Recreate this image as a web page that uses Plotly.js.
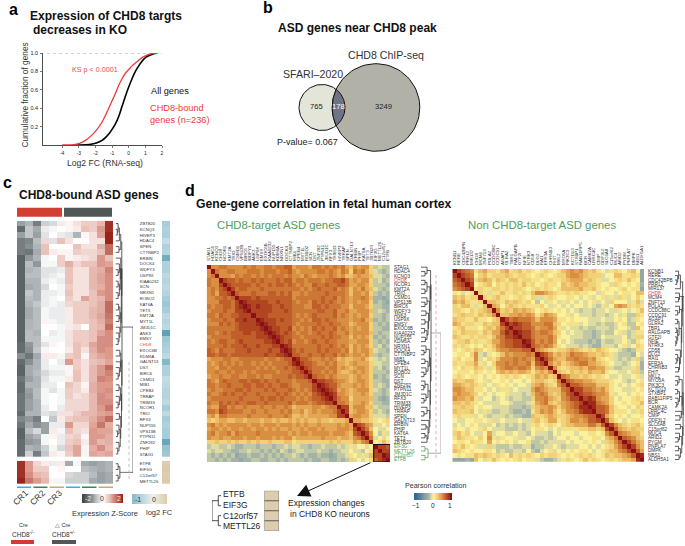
<!DOCTYPE html>
<html><head><meta charset="utf-8"><script src="https://cdn.plot.ly/plotly-3.0.1.min.js"></script>
<style>html,body{margin:0;padding:0;background:#fff}</style></head><body><div id="chart" style="width:685px;height:546px"></div>
<script>
// ---------- panel a ----------
const allFC=[-3.2,-2.6,-2.2,-1.9,-1.6,-1.4,-1.2,-1,-.8,-.6,-.4,-.2,0,.2,.4,.6,.8,1,1.2,1.4,1.7];
const allCum=[0,.002,.01,.025,.05,.08,.12,.17,.23,.31,.42,.53,.63,.72,.80,.86,.91,.95,.97,.985,1];
const boundFC=[-4,-3.5,-3,-2.6,-2.2,-1.9,-1.6,-1.3,-1,-.8,-.6,-.4,-.2,0,.2,.4,.6,.8,1,1.3,1.7];
const boundCum=[0,.002,.015,.05,.11,.17,.25,.36,.48,.56,.65,.72,.78,.82,.86,.89,.92,.95,.97,.99,1];
// ---------- panel b ----------
const vennCounts=["765","178","3249"];
const vennNames=["SFARI\u20132020","CHD8 ChIP-seq"];
// ---------- panel c ----------
const genesC=["ZBTB20","KCNQ3","HIVEP3","HDAC4","SPEN","CTTNBP2","ERBIN","DOCK4","WDFY3","USP9X","KIAA0232","SCN","NRXN1","ROBO2","KAT6A","TET3","KMT2A","MYT1L","JMJD1C","ANK3","EMSY","CHD8","EXOC6B","KDM6A","GALNT13","DST","BIRC6","CSMD1","MIB1","CPEB4","TRRAP","TRIM33","NCOR1","TRIO","RFX3","NUP155","VPS13B","PTPN11","ZNF292","PHIP","STAG1"];
const genesC2=["ETFB","EIF3G","C12orf57","METTL26"];
const exprMain=[
[-1.0,-.8,-1.4,-.5,-.4,.2,.1,.3,.5,.5,.7,1.9],
[-1.6,-.6,-.9,-.2,-.1,0,.1,.2,.6,.5,1.0,1.9],
[-1.0,-.6,-1.0,-.3,0,-.2,-.3,-.8,.1,.3,.9,2.0],
[-1.4,-1.3,-.7,.4,-.3,.6,.3,0,0,.3,.3,2.0],
[-1.4,-1.2,-.8,.6,0,0,0,.6,.3,.3,.8,1.4],
[-1.4,-1.5,-.9,.6,.2,.1,.1,.5,.4,.4,.6,1.4],
[-1.7,-1.1,-.8,-.1,0,.5,.1,.2,.3,.4,1.0,.6],
[-1.7,-.7,-1.1,-.1,-.1,.5,.8,.4,.6,.6,1.0,.9],
[-1.7,-.8,-.7,-.3,-.3,-.2,.6,.3,.3,.7,.8,1.2],
[-1.7,-.7,-.7,-.3,-.2,-.1,.6,.3,.3,.7,.9,1.1],
[-1.7,-.8,-.8,-.2,-.1,-.2,.6,.3,.3,.7,.9,1.1],
[-1.7,-.9,-.8,-.4,0,-.1,.5,.3,.3,.7,.8,1.1],
[-1.7,-.6,-.8,-.2,-.2,-.1,.6,.3,.3,.6,1.0,1.1],
[-1.7,-.7,-.8,-.2,-.1,0,.5,.3,.9,.6,.7,1.1],
[-1.7,-.8,-.6,-.2,-.1,-.2,.4,.5,.5,.6,.8,1.4],
[-1.7,-.9,-.7,-.1,-.2,-.2,.2,.5,.5,.7,.8,1.4],
[-1.7,-.9,-.7,-.1,-.2,-.2,.2,.5,.5,.7,.9,1.3],
[-1.7,-.8,-.7,.1,-.1,-.2,.2,.5,.5,.6,.8,1.2],
[-1.7,-.8,-.7,0,0,-.1,.2,.3,0,.6,.7,1.4],
[-1.7,-.7,-.8,0,-.2,-.1,.3,.5,.5,.6,.9,1.1],
[-1.7,-.7,-.7,-.1,-.1,-.1,.3,.5,.5,.6,1.1,1.1],
[-1.6,-1.1,-.7,-.3,.1,0,.3,.6,.5,.9,1.1,1.1],
[-1.6,-1.2,-.6,.1,0,0,.2,.6,.3,.8,1.1,1.0],
[-1.2,-1.5,-.9,.2,.2,-.1,.5,.6,.1,.7,.9,1.0],
[-1.6,-1.2,-.8,-.2,0,-.2,1.0,.5,.3,.6,.7,.9],
[-1.7,-.9,-.8,-.2,-.1,-.1,.1,.5,.3,.7,1.0,1.4],
[-1.7,-.9,-.7,-.4,-.2,-.2,.1,.6,.3,.7,1.0,1.2],
[-1.5,-1.0,-.8,-.3,-.1,-.1,.2,.6,.3,.7,1.2,1.1],
[-1.6,-.8,-.8,-.2,-.2,0,.6,.4,.1,.8,1.0,1.0],
[-1.6,-1.0,-.7,-.1,-.3,-.1,.5,.4,.2,.8,1.0,1.1],
[-1.5,-1.1,-.7,-.1,0,-.1,.5,.3,.4,.7,1.1,1.0],
[-1.5,-1.0,-.8,-.1,0,-.1,.4,.4,.4,.7,1.1,1.1],
[-1.5,-1.0,-.8,-.2,0,-.2,.4,.4,.4,.7,1.0,1.3],
[-1.6,-.8,-.8,-.3,-.4,.3,.3,.5,.7,.7,.9,1.0],
[-1.3,-1.1,-1.4,0,-.6,.2,.5,.6,.6,.8,1.1,1.4],
[-1.5,-.9,-1.2,-1.0,-.2,-.2,1.0,.4,.4,.9,1.3,.8],
[-1.7,-.7,-.4,-1.0,.2,-.1,.6,.4,.3,1.0,.9,.9],
[-1.7,-1.0,-.8,-.1,.1,-.2,.4,.5,.1,1.0,1.0,.8],
[-1.6,-1.1,-1.0,-.1,0,-.2,.5,.6,.2,1.0,.7,.8],
[-1.6,-.8,-.9,-.5,-.1,-.4,.6,.9,.1,.8,1.1,.7],
[-1.6,-.5,-1.4,-.6,.2,.1,.5,.9,-.1,.9,.8,.9]];
const exprSmall=[
[1.9,1.0,.4,.2,-.2,.2,-.9,-.1,-.9,-1.0,-.9,-.8],
[1.9,1.0,.5,.5,0,.1,0,0,-.7,-.8,-.9,-.8],
[1.9,1.1,.7,.6,0,0,-.4,-.5,-.5,-.7,-1.0,-.9],
[2.0,1.3,1.0,.7,-.1,-.1,-.5,-.5,-.5,-.9,-1.0,-.9]];
const fcMain=[-1.0,-.9,-.95,-.6,-.9,-.8,-1.6,-.9,-.9,-.7,-.8,-.7,-.8,-1.0,-1.1,-1.0,-.7,-.8,-.7,-1.8,-1.1,-1.0,-.9,-.7,-1.4,-.9,-.9,-.6,-.7,-.8,-.8,-.7,-1.0,-.7,-1.0,-.9,-1.0,-1.0,-1.7,-1.2,-1.1];
const fcSmall=[.9,.95,.9,.95];
const zBarValues=[[-2,-1.75,-1.5,-1.25,-1,-.75,-.5,-.25,0,.25,.5,.75,1,1.25,1.5,1.75,2]];
const fcBarValues=[[-1.3,-1.1,-.9,-.7,-.5,-.3,-.1,.1,.3,.5,.7,.9]];
const sampleNames=["CR1","CR2","CR3"];
// merges: [height, left, right], numbers are gene rows
const treeCmain=[.37,[.36,[.30,[.22,[.15,0,[.1,1,2]],3],[.2,4,5]],[.33,[.3,6,[.27,[.22,7,[.15,8,9]],[.22,[.15,10,11],[.15,12,13]]]],[.3,[.25,[.18,14,15],[.2,16,17]],[.25,18,[.2,19,[.15,20,21]]]]]],[.36,[.3,[.25,22,23],[.28,24,[.22,25,[.15,26,27]]]],[.34,[.28,[.2,28,29],[.22,30,[.15,31,32]]],[.3,[.22,33,34],[.27,[.2,35,[.12,36,37]],[.2,38,[.13,39,40]]]]]]];
const treeCsmall=[.25,[.15,41,42],[.15,43,44]];
// ---------- panel d ----------
const genesL=["STAG1","HDAC4","KCNQ3","CHD8","NCOR1","KMT2A","TRIO","CSMD1","VPS13B","BIRC6","WDFY3","ANK3","USP9X","EMSY","EXOC6B","KIAA0232","NUP155","KDM6A","NRXN1","DOCK4","CTTNBP2","MIB1","CPEB4","MYT1L","ROBO2","SCN","DST","ZNF292","PTPN11","JMJD1C","RFX3","TRIM33","HIVEP3","TRRAP","SPEN","GALNT13","ERBIN","PHIP","KAT6A","TET3","ZBTB20","EIF3G","METTL26","C12orf57","ETFB"];
const genesR=["KCNB1","RERE","CDC42BPB","PRR12","MIR137","CHD8","MCM4","ZNF713","POLA2","CCDC88C","CCDC91","AGAP1","GLRA2","TBR1","RALGAPB","GTF2I","NFIE","NTRK3","CD58","DLG2","RAI1","EFR3A","CHRNB3","FHIT","MKL2","MYO5A","PIK3C3","KCTD13","STXBP1","RAB11FIP5","BCR","CAMK2A","LRRC4C","CMIP","ODF3L2","SLC6A8","C15orf62","MUC4","ARID2","PYGM","PNPLA7","DMPK","NBS1","ALDH5A1"];
const corrLeftTri=[
[10],[5,10],[5,6,10],[6,5,5,10],[6,5,5,8,10],[5,6,5,7,8,10],[5,6,4,7,7,8,10],
[5,5,6,6,7,6,7,10],[5,5,5,7,7,7,6,8,10],[6,5,6,6,7,7,6,8,9,10],[5,6,6,6,7,6,6,8,8,9,10],
[6,6,5,7,6,6,7,7,8,8,8,10],[5,6,6,6,7,6,6,8,8,9,8,8,10],[5,5,5,7,6,7,6,7,8,8,8,8,9,10],
[6,6,6,6,6,6,6,7,8,8,8,8,8,9,10],[6,6,5,6,7,6,7,7,7,8,8,7,8,8,9,10],[5,6,6,6,6,6,7,7,7,7,7,7,8,8,8,9,10],
[6,5,6,7,7,6,6,7,8,7,7,7,7,7,8,8,9,10],[6,6,6,6,7,6,7,7,7,8,7,7,8,7,7,7,8,8,10],
[7,6,5,7,6,6,6,7,7,7,8,7,7,7,7,8,7,7,9,10],[7,7,6,7,7,6,7,7,7,7,7,7,7,7,8,7,7,8,8,9,10],
[4,5,5,5,6,6,5,5,6,6,6,6,6,6,5,6,6,5,6,7,7,10],
[5,4,5,6,5,6,5,6,5,6,6,5,6,5,6,5,6,6,6,6,7,9,10],
[5,5,4,6,6,5,6,6,6,6,6,6,5,6,5,6,5,6,6,7,6,7,8,10],
[5,5,6,5,5,6,5,6,6,5,6,5,6,6,6,6,6,5,6,6,6,7,7,8,10],
[4,5,5,6,5,5,6,6,5,5,6,6,5,6,5,5,6,6,6,6,7,6,7,7,8,10],
[6,5,4,6,7,6,6,6,7,7,6,7,7,6,7,6,6,7,6,6,6,5,6,6,6,7,10],
[6,6,5,6,6,7,6,6,6,7,7,6,7,7,6,7,6,6,7,7,6,5,5,6,6,6,8,10],
[5,6,5,5,6,6,6,7,7,6,7,6,6,6,7,6,7,6,6,6,7,6,5,6,5,6,8,9,10],
[6,5,5,6,7,6,7,6,6,7,6,6,7,6,6,6,6,7,6,7,6,5,6,5,6,5,7,8,9,10],
[5,6,6,6,6,6,6,6,7,6,6,6,6,7,6,7,7,6,7,6,6,6,5,6,5,6,7,7,8,9,10],
[6,5,5,7,6,7,6,7,6,6,7,7,6,6,7,6,6,6,6,6,7,5,6,6,6,5,6,7,7,8,8,10],
[5,4,4,7,7,5,6,5,5,6,5,5,5,6,5,5,6,5,5,6,5,3,4,4,4,4,5,5,4,5,6,6,10],
[6,6,5,8,7,6,6,6,6,5,5,6,5,5,6,5,5,5,6,5,6,4,4,5,3,4,5,4,5,5,5,6,8,10],
[4,5,3,6,6,5,5,5,5,5,6,5,5,5,5,6,5,5,5,6,5,3,3,4,3,4,4,4,4,4,5,5,8,8,10],
[3,2,3,4,4,3,3,4,4,3,4,4,4,3,4,4,3,4,3,3,4,3,4,3,4,3,3,4,3,3,2,3,3,3,4,10],
[5,6,4,5,4,5,5,5,5,5,4,5,5,4,5,5,5,4,5,5,5,4,5,4,5,4,4,5,4,4,4,4,5,4,5,4,10],
[4,5,5,4,5,4,5,5,4,5,5,4,5,5,4,5,4,5,4,4,5,4,4,5,4,5,5,4,5,4,4,4,5,5,5,4,8,10],
[5,6,4,5,5,6,4,6,5,5,5,5,6,5,5,5,5,5,5,5,4,5,4,5,5,4,5,5,5,5,4,5,5,5,4,3,7,8,10],
[5,4,4,5,4,4,5,5,5,4,5,5,4,5,5,5,4,5,4,5,5,3,4,4,4,4,4,4,5,4,4,4,3,4,4,3,5,6,8,10],
[2,2,3,2,2,3,2,3,2,2,3,2,3,2,2,3,2,2,2,3,3,1,2,2,2,2,2,2,2,2,3,2,3,2,2,2,4,3,5,6,10],
[-2,-1,-1,-2,-2,-1,-2,-3,-3,-2,-2,-2,-3,-2,-2,-2,-3,-2,-2,-1,-2,-1,-1,-2,-2,-3,-2,-2,-1,-2,-2,-2,-1,-2,-1,1,-1,0,0,-1,0,10],
[-1,-2,-1,-1,-2,-2,-3,-3,-2,-2,-1,-2,-2,-3,-2,-3,-2,-3,-1,-2,-3,-2,-1,-1,-2,-2,-2,-1,-2,-2,-3,-2,-2,-1,-1,0,-1,-1,-2,0,1,8,10],
[-2,-3,-2,-3,-2,-3,-2,-4,-3,-3,-2,-3,-3,-2,-3,-2,-3,-2,-3,-2,-2,-1,-2,-3,-2,-3,-3,-2,-3,-3,-4,-3,-2,-2,-1,1,0,-1,1,-1,3,8,8,10],
[-2,-2,-3,-2,-3,-2,-3,-3,-4,-3,-3,-2,-2,-3,-3,-2,-2,-3,-2,-3,-2,-2,-2,-2,-3,-2,-3,-3,-2,-2,-3,-3,-2,-3,-2,2,-1,0,-1,0,1,7,8,9,10]];
const corrRightTri=[
[10],[8,10],[7,8,10],[6,7,8,10],[5,6,7,8,10],[1,0,-1,0,1,10],[3,2,3,1,2,2,10],[4,3,4,2,1,1,2,10],[2,1,3,3,1,-1,1,3,10],
[2,2,1,0,2,1,2,3,4,10],[1,2,3,2,2,1,3,2,3,5,10],[3,2,2,1,1,3,1,1,0,2,3,10],[4,3,1,2,2,1,1,3,2,3,3,8,10],
[1,2,3,1,1,1,0,2,3,2,4,6,8,10],[2,1,3,2,2,2,1,3,2,4,4,7,9,8,10],[3,2,1,1,2,1,2,2,1,3,5,6,8,8,9,10],
[1,2,2,3,1,2,1,1,2,4,4,6,7,7,8,8,10],[2,1,2,1,0,1,0,2,1,3,5,6,7,7,8,8,9,10],[1,0,1,2,1,3,2,0,1,2,4,5,5,6,6,6,7,7,10],
[0,1,1,0,2,5,-1,-2,1,0,1,3,5,4,5,5,5,6,5,10],[1,2,0,1,1,5,-1,0,2,1,3,5,5,5,6,5,6,5,4,8,10],
[2,1,1,2,2,4,1,-1,0,2,5,5,6,5,6,5,5,6,3,7,8,10],[1,0,2,1,1,3,2,1,-1,1,4,5,6,6,5,6,6,5,2,5,6,5,10],
[0,1,1,1,0,2,1,0,1,0,3,4,3,4,3,4,4,3,1,3,4,3,5,10],[1,2,1,0,1,1,0,-1,0,1,0,1,2,1,2,1,0,1,2,4,3,4,2,3,10],
[3,2,2,3,3,1,0,1,-1,0,0,1,0,-1,0,0,-1,0,2,3,3,2,1,2,6,10],[4,4,3,2,3,2,1,-1,0,-1,1,0,1,0,-1,0,0,-1,3,4,5,3,2,1,5,7,10],
[5,5,4,3,3,1,1,0,-1,0,-1,1,1,-1,0,-1,-1,-1,4,6,5,4,3,3,3,6,7,10],[4,5,4,4,3,2,0,-1,0,-1,0,0,1,-1,-1,-1,-2,-1,3,5,6,5,3,2,3,5,7,8,10],
[5,4,4,3,4,1,-1,0,0,-2,-1,0,-1,-2,-1,-1,-2,-2,2,5,5,6,4,3,2,5,6,8,8,10],[3,3,2,3,2,1,0,-1,-1,-1,-1,0,0,-1,-2,-2,-2,-1,1,4,5,6,3,2,3,4,5,6,7,8,10],
[2,2,3,2,2,0,1,0,0,-1,-1,-1,-1,-2,-2,-2,-3,-2,2,3,4,4,5,4,2,4,5,6,7,9,9,10],[3,2,2,2,3,0,-1,1,-1,-2,-2,-1,-1,-2,-3,-3,-2,-3,1,3,5,4,5,3,1,3,5,5,6,8,9,9,10],
[1,2,1,1,1,-1,0,-1,-2,-1,-1,-1,-2,-1,-2,-2,-3,-3,3,2,2,3,4,3,2,2,3,4,5,5,6,7,7,10],[0,-1,-1,0,0,1,1,0,1,-1,-1,0,-1,-1,-1,0,-1,-1,2,3,1,2,4,4,1,2,3,5,5,4,5,7,7,8,10],
[-1,0,-1,0,1,0,-1,-1,-1,0,-2,-1,-2,-1,-2,-1,-2,-1,1,2,0,1,2,1,0,2,3,3,4,4,4,6,6,4,7,10],[1,0,0,-1,0,0,1,2,0,-1,-1,-1,-2,-2,-2,-1,-2,-1,0,1,1,0,-1,0,-1,1,1,1,1,2,2,3,3,2,3,8,10],
[2,3,1,2,0,-1,-1,0,4,-1,0,0,-1,-1,0,-1,-1,-2,0,-1,-1,-1,-2,0,-1,0,0,0,-1,0,0,1,1,0,1,5,7,10],[1,3,2,1,1,0,2,0,5,1,-1,1,0,0,1,-1,-1,0,-1,-2,-2,-1,-2,-1,0,0,-1,0,0,-1,0,0,1,1,0,3,4,6,10],
[0,1,1,0,2,1,1,0,4,0,1,0,1,0,-1,0,0,1,-2,-2,-1,-2,-1,-1,-1,-1,0,-1,0,0,1,0,1,0,-1,2,3,5,7,10],[2,1,3,1,0,1,-1,-1,2,-1,-2,-2,-2,-1,-2,-2,-1,-1,-3,-2,-2,-1,-1,0,-1,-2,-1,-1,-1,0,0,-1,0,-1,0,1,2,4,6,8,10],
[3,2,1,0,1,0,0,1,1,0,-2,-1,-2,-2,-1,-1,-2,0,-2,-3,-1,0,1,-1,0,-1,0,1,0,1,1,0,-1,0,1,2,3,3,5,6,8,10],[0,1,0,1,1,3,2,3,2,1,2,1,0,3,1,2,1,2,1,0,2,1,2,2,1,0,1,0,1,2,1,2,1,0,1,3,2,3,3,4,5,7,10],
[-4,-4,-4,-3,-4,3,0,-1,1,3,1,0,1,0,1,2,0,1,1,-1,-2,-3,-3,-2,-1,1,2,1,0,1,3,1,2,1,0,1,2,1,2,3,3,4,9,10]];
const pearsonBarValues=[[-1,-.8,-.6,-.4,-.2,0,.2,.4,.6,.8,1]];
const treeLmain=[.5,[.48,[.3,0,[.2,1,2]],[.45,[.3,[.2,3,4],[.2,5,6]],[.42,[.3,7,[.2,8,9]],[.38,[.25,10,11],[.35,[.2,12,13],[.3,[.18,14,15],[.22,16,17]]]]]]],[.47,[.42,[.25,18,[.15,19,20]],[.35,[.2,21,22],[.25,23,[.15,24,25]]]],[.45,[.35,[.2,26,[.14,27,28]],[.25,29,[.15,30,31]]],[.44,[.3,32,[.15,33,34]],[.4,35,[.35,[.25,36,37],[.3,[.2,38,39],40]]]]]]];
const treeLsmall=[.35,[.2,41,42],[.2,43,44]];
const treeR=[1,[.85,[.6,[.4,0,[.3,1,[.2,2,3]]],4],[.8,[.5,5,[.4,6,7]],[.75,[.5,8,[.3,9,10]],[.7,[.45,[.3,11,12],[.3,[.2,13,14],[.2,15,[.1,16,17]]]],[.6,18,[.5,[.3,19,[.2,20,21]],[.4,22,23]]]]]]],[.9,[.8,[.45,24,[.3,25,26]],[.78,[.5,[.3,27,28],[.35,29,[.2,30,31]]],[.7,32,[.55,33,34]]]],[.85,[.6,35,36],[.75,[.5,37,[.35,38,39]],[.6,[.4,40,41],[.45,42,43]]]]]];
const keyGenes=["ETFB","EIF3G","C12orf57","METTL26"];
const keyChange=[[.9],[.9],[.9],[.9]];
const treeKey=[1,[.3,0,1],[.3,2,3]];

// ---------- drawing ----------
const W=685,H=546,FONT='"Liberation Sans",Arial,sans-serif';
const traces=[],annotations=[],shapes=[];
const layout={width:W,height:H,margin:{l:0,r:0,t:0,b:0},paper_bgcolor:'#fff',plot_bgcolor:'rgba(0,0,0,0)',showlegend:false,font:{family:FONT,color:'#222'},annotations,shapes};
let axN=0;
function addAxes(x0,x1,y0,y1,xo,yo){axN++;const s=axN===1?'':axN;
  const hidden={visible:false,fixedrange:true,showgrid:false,zeroline:false};
  layout['xaxis'+s]=Object.assign({},hidden,{domain:[x0/W,x1/W],anchor:'y'+s},xo||{});
  layout['yaxis'+s]=Object.assign({},hidden,{domain:[1-y1/H,1-y0/H],anchor:'x'+s},yo||{});
  return {x:'x'+s,y:'y'+s};}
function note(text,x,y,size,color,opts){annotations.push(Object.assign({text,x:x/W,y:1-y/H,xref:'paper',yref:'paper',showarrow:false,xanchor:'left',yanchor:'middle',borderpad:0,font:{size,color:color||'#222',family:FONT}},opts||{}));}
function rect(x0,y0,x1,y1,fill,line,w){shapes.push({type:'rect',xref:'paper',yref:'paper',x0:x0/W,x1:x1/W,y0:1-y0/H,y1:1-y1/H,fillcolor:fill||'rgba(0,0,0,0)',line:{color:line||'rgba(0,0,0,0)',width:line?(w||.6):0}});}
function seg(x0,y0,x1,y1,color,w,dash){shapes.push({type:'line',xref:'paper',yref:'paper',x0:x0/W,x1:x1/W,y0:1-y0/H,y1:1-y1/H,line:{color,width:w||.6,dash:dash||'solid'}});}
function mirror(tri){const n=tri.length,m=[];for(let i=0;i<n;i++){m.push([]);for(let j=0;j<n;j++){m[i].push((i>=j?tri[i][j]:tri[j][i])/10);}}return m;}
const idx=a=>a.map((_,i)=>i);
function treeLines(node,rowPos,xs,ys){
  if(typeof node==='number')return {y:rowPos(node),h:0};
  const a=treeLines(node[1],rowPos,xs,ys),b=treeLines(node[2],rowPos,xs,ys),h=node[0];
  xs.push(a.h,h,h,b.h,null);ys.push(a.y,a.y,b.y,b.y,null);
  return {y:(a.y+b.y)/2,h};}
function drawTree(node,ax,color,rowPos,w){const xs=[],ys=[];const r=treeLines(node,rowPos||(i=>i),xs,ys);
  traces.push({type:'scatter',mode:'lines',x:xs,y:ys,xaxis:ax.x,yaxis:ax.y,line:{color,width:w||.8},hoverinfo:'skip',connectgaps:false});return r;}
function rootLink(a,b,h,ax,color){traces.push({type:'scatter',mode:'lines',x:[a.h,h,h,b.h],y:[a.y,a.y,b.y,b.y],xaxis:ax.x,yaxis:ax.y,line:{color,width:.7},hoverinfo:'skip'});}

// panel a
const aAx=addAxes(43,162,53,145,
 {visible:true,range:[-5.15,2],tickvals:[-4,-3,-2,-1,0,1,2],ticktext:['-4','-3','-2','-1','0','1','2'],showline:true,linecolor:'#222',linewidth:.8,ticks:'outside',ticklen:2,tickwidth:.6,tickcolor:'#222',tickfont:{size:5,family:FONT,color:'#222'},ticklabelstandoff:1},
 {visible:true,range:[0,1],tickvals:[.2,.4,.6,.8,1],ticktext:['0.2','0.4','0.6','0.8','1.0'],showline:true,linecolor:'#222',linewidth:.8,ticks:'outside',ticklen:2,tickwidth:.6,tickcolor:'#222',tickfont:{size:5.5,family:FONT,color:'#222'},ticklabelstandoff:1});
traces.push({type:'scatter',mode:'lines',x:[-4.9,2],y:[1,1],xaxis:aAx.x,yaxis:aAx.y,line:{color:'#888',width:.8,dash:'dot'},cliponaxis:false,hoverinfo:'skip'});
traces.push({type:'scatter',mode:'lines',x:allFC,y:allCum,xaxis:aAx.x,yaxis:aAx.y,line:{color:'#000',width:1.6,shape:'spline',smoothing:.7},cliponaxis:false,hoverinfo:'skip'});
traces.push({type:'scatter',mode:'lines',x:boundFC,y:boundCum,xaxis:aAx.x,yaxis:aAx.y,line:{color:'#ee3a38',width:1.3,shape:'spline',smoothing:.7},cliponaxis:false,hoverinfo:'skip'});
note('<b>a</b>',8,9,16,'#000');
note('<b>Expression of CHD8 targts</b>',29,16,12,'#111');
note('<b>decreases in KO</b>',32,30,12,'#111');
note('KS p &lt; 0.0001',71,69,7.2,'#ee4a48');
note('All genes',150,91,9.2,'#111');
note('CHD8-bound',149,108,9.2,'#ee3a38');
note('genes (n=236)',149,120,9.2,'#ee3a38');
note('Log2 FC (RNA-seq)',105,163,8.6,'#333',{xanchor:'center'});
note('Cumulative fraction of genes',24.5,95,8.3,'#333',{xanchor:'center',textangle:-90});

// panel b
const bAx=addAxes(270,430,55,160,{range:[270,430]},{range:[160,55]});
const cA={x:322,y:107.5,r:23},cB={x:376,y:107.5,r:43.8};
function circleTrace(c,fill){const xs=[],ys=[];for(let d=0;d<=360;d+=4){xs.push(c.x+c.r*Math.cos(d*Math.PI/180));ys.push(c.y+c.r*Math.sin(d*Math.PI/180));}
  traces.push({type:'scatter',mode:'lines',x:xs,y:ys,xaxis:bAx.x,yaxis:bAx.y,fill:'toself',fillcolor:fill,line:{color:'#111',width:1},hoverinfo:'skip'});}
circleTrace(cA,'#e3e5d8');circleTrace(cB,'#b1b1a7');
(function(){const d=cB.x-cA.x,a=(d*d+cA.r*cA.r-cB.r*cB.r)/(2*d),hh=Math.sqrt(cA.r*cA.r-a*a);
  const ang=(c,px,py)=>Math.atan2(py-c.y,px-c.x),xs=[],ys=[],ix=cA.x+a;
  const a1=ang(cA,ix,cA.y-hh),a2=ang(cA,ix,cA.y+hh);
  for(let t=0;t<=30;t++){const q=a1+(a2-a1)*t/30;xs.push(cA.x+cA.r*Math.cos(q));ys.push(cA.y+cA.r*Math.sin(q));}
  let b1=ang(cB,ix,cA.y+hh),b2=ang(cB,ix,cA.y-hh);if(b1<0)b1+=2*Math.PI;if(b2<0)b2+=2*Math.PI;
  for(let t=0;t<=30;t++){const q=b1+(b2-b1)*t/30;xs.push(cB.x+cB.r*Math.cos(q));ys.push(cB.y+cB.r*Math.sin(q));}
  traces.push({type:'scatter',mode:'lines',x:xs,y:ys,xaxis:bAx.x,yaxis:bAx.y,fill:'toself',fillcolor:'#6e7486',line:{color:'#111',width:1},hoverinfo:'skip'});})();
note('<b>b</b>',262,8,16,'#000');
note('<b>ASD genes near CHD8 peak</b>',277,28,12,'#111');
note(vennNames[1],347,55,10.6,'#333');
note(vennNames[0],282,74,10.6,'#333');
note(vennCounts[0],316,107,7.6,'#222',{xanchor:'center'});
note(vennCounts[1],338,107,7.6,'#fff',{xanchor:'center'});
note(vennCounts[2],383,107,7.6,'#222',{xanchor:'center'});
note('P-value= 0.067',276,142,9,'#222');

// panel c
const zScale=[[0,'#3f4a4d'],[.25,'#9aa1a5'],[.5,'#ffffff'],[.75,'#dc9a8c'],[1,'#97261a']];
const fcScale=[[0,'#4f96ab'],[.34,'#a9cedb'],[.67,'#eef0ea'],[1,'#dbc9a7']];
const redLabel=t=>`<span style="color:#ee3a38">${t}</span>`;
const cMain=addAxes(17,113,220.7,457,{range:[-.5,11.5]},{visible:true,side:'right',range:[40.5,-.5],tickvals:idx(genesC),ticktext:genesC.map(g=>g==='CHD8'?redLabel(g):g),ticklen:0,showline:false,showticklabels:true,tickfont:{size:4.2,family:FONT,color:'#333'},ticklabelstandoff:25});
traces.push({type:'heatmap',z:exprMain,xaxis:cMain.x,yaxis:cMain.y,zmin:-2,zmax:2,colorscale:zScale,showscale:false,hoverinfo:'skip'});
const cSmall=addAxes(17,113,460.7,484,{range:[-.5,11.5]},{visible:true,side:'right',range:[3.5,-.5],tickvals:idx(genesC2),ticktext:genesC2,ticklen:0,showline:false,tickfont:{size:4.2,family:FONT,color:'#333'},ticklabelstandoff:25});
traces.push({type:'heatmap',z:exprSmall,xaxis:cSmall.x,yaxis:cSmall.y,zmin:-2,zmax:2,colorscale:zScale,showscale:false,hoverinfo:'skip'});
const cFc=addAxes(162,170,220.7,457,{range:[-.5,.5]},{range:[40.5,-.5]});
traces.push({type:'heatmap',z:fcMain.map(v=>[v]),xaxis:cFc.x,yaxis:cFc.y,zmin:-2,zmax:1,colorscale:fcScale,showscale:false,hoverinfo:'skip'});
const cFc2=addAxes(162,170,460.7,484,{range:[-.5,.5]},{range:[3.5,-.5]});
traces.push({type:'heatmap',z:fcSmall.map(v=>[v]),xaxis:cFc2.x,yaxis:cFc2.y,zmin:-2,zmax:1,colorscale:fcScale,showscale:false,hoverinfo:'skip'});
const cTree=addAxes(115.5,133,220.7,484,{range:[0,1]},{range:[45.22,-.5]});
const rowC=i=>i<41?i:i+.7;
const tm=drawTree(treeCmain,cTree,'#333',rowC),ts=drawTree(treeCsmall,cTree,'#333',rowC);
rootLink(tm,ts,1,cTree,'#333');
seg(129,362,129,480,'#aaa',.7,'dot');
rect(17,207.7,62,216.7,'#d13f30');rect(64,207.7,112,216.7,'#4f5757');
const stripeColors=['#29b6e6','#2e8b57','#c8a96a'];
[[17,31],[33.5,47.5],[49.5,64],[66,80],[82,96.5],[98.5,113]].forEach((s,i)=>rect(s[0],486.5,s[1],488,stripeColors[i%3]));
note('<b>c</b>',2,183,16,'#000');
note('<b>CHD8-bound ASD genes</b>',18,195,12,'#111');
sampleNames.forEach((n,i)=>note(n,[20,37,54][i],498,8.5,'#333',{xanchor:'center',textangle:-45}));
const zBar=addAxes(82,123,494,503,{range:[-.5,16.5]},{range:[-.5,.5]});
traces.push({type:'heatmap',z:zBarValues,xaxis:zBar.x,yaxis:zBar.y,zmin:-2,zmax:2,colorscale:zScale,zsmooth:'best',showscale:false,hoverinfo:'skip'});
note('-2',88,498.5,7,'#eee',{xanchor:'center'});note('0',102,498.5,7,'#333',{xanchor:'center'});note('2',119,498.5,7,'#eee',{xanchor:'center'});
const fBar=addAxes(132,167,494,504,{range:[-.5,11.5]},{range:[-.5,.5]});
traces.push({type:'heatmap',z:fcBarValues,xaxis:fBar.x,yaxis:fBar.y,zmin:-2,zmax:1,colorscale:fcScale,zsmooth:'best',showscale:false,hoverinfo:'skip'});
note('-1',138,499,7,'#333',{xanchor:'center'});note('0',154,499,7,'#333',{xanchor:'center'});
note('Expression Z-Score',105,513,7.5,'#333',{xanchor:'center'});
note('log2 FC',159,512,7.5,'#333',{xanchor:'center'});
note('Cre',23,525,5.5,'#333',{xanchor:'center'});
note('CHD8<sup>-/-</sup>',23,533.5,6.5,'#333',{xanchor:'center'});
rect(11,540,34,544,'#d83a33');
note('\u25B3 Cre',62,525,5.5,'#333',{xanchor:'center'});
note('CHD8<sup>+/-</sup>',64,533.5,6.5,'#333',{xanchor:'center'});
rect(52,540,76,544,'#555');

// panel d
const corrScale=[[0,'#34679c'],[.35,'#a3b3a8'],[.5,'#fbf09c'],[.62,'#f0cc72'],[.75,'#d98f42'],[.87,'#bc5526'],[1,'#8c0f14']];
const greenLabel=t=>`<span style="color:#4d9e5a">${t}</span>`;
const tickTop={visible:true,side:'top',ticklen:0,showline:false,tickangle:-90,tickfont:{size:4.4,family:FONT,color:'#333'},ticklabelstandoff:2};
const tickRight={visible:true,side:'right',ticklen:0,showline:false,tickfont:{size:4.7,family:FONT,color:'#333'},ticklabelstandoff:2};
const dL=addAxes(206.7,390,265,462,Object.assign({},tickTop,{range:[-.5,44.5],tickvals:idx(genesL),ticktext:genesL}),
 Object.assign({},tickRight,{range:[44.5,-.5],tickvals:idx(genesL),ticktext:genesL.map((g,i)=>g==='CHD8'?redLabel(g):(i>=41?greenLabel(g):g))}));
traces.push({type:'heatmap',z:mirror(corrLeftTri),xaxis:dL.x,yaxis:dL.y,zmin:-1,zmax:1,colorscale:corrScale,showscale:false,hoverinfo:'skip'});
shapes.push({type:'rect',xref:dL.x,yref:dL.y,x0:40.5,x1:44.5,y0:40.5,y1:44.5,line:{color:'#111',width:1}});
const dR=addAxes(452.3,644,269,461.7,Object.assign({},tickTop,{range:[-.5,43.5],tickvals:idx(genesR),ticktext:genesR}),
 Object.assign({},tickRight,{range:[43.5,-.5],tickvals:idx(genesR),ticktext:genesR.map(g=>g==='CHD8'?redLabel(g):g)}));
traces.push({type:'heatmap',z:mirror(corrRightTri),xaxis:dR.x,yaxis:dR.y,zmin:-1,zmax:1,colorscale:corrScale,showscale:false,hoverinfo:'skip'});
const lTree=addAxes(421,441,265,462,{range:[0,1]},{range:[44.5,-.5]});
const lm=drawTree(treeLmain,lTree,'#333'),ls=drawTree(treeLsmall,lTree,'#5aa55f');
rootLink(lm,ls,1,lTree,'#888');
seg(436,275,436,458,'#ee8a8a',.8,'dot');
const rTree=addAxes(675,684,269,461.7,{range:[0,1]},{range:[43.5,-.5]});
drawTree(treeR,rTree,'#333');
note('<b>d</b>',184,190,16,'#000');
note('<b>Gene-gene correlation in fetal human cortex</b>',324,204,12.2,'#111',{xanchor:'center'});
note('CHD8-target ASD genes',216,225,11.3,'#4d9e5a');
note('Non CHD8-target ASD genes',467,225,11.4,'#4d9e5a');
annotations.push({x:297/W,y:1-496/H,ax:372/W,ay:1-462/H,xref:'paper',yref:'paper',axref:'paper',ayref:'paper',showarrow:true,arrowhead:2,arrowsize:2.6,arrowwidth:1,arrowcolor:'#111',text:''});
const kT=addAxes(264.3,279,490.7,530.7,{range:[-.5,.5]},{range:[3.5,-.5]});
traces.push({type:'heatmap',z:keyChange,xaxis:kT.x,yaxis:kT.y,zmin:-2,zmax:1,colorscale:fcScale,showscale:false,hoverinfo:'skip'});
[0,1,2,3].forEach(i=>shapes.push({type:'rect',xref:kT.x,yref:kT.y,x0:-.5,x1:.5,y0:i-.5,y1:i+.5,line:{color:'#666',width:.7}}));
const kTree=addAxes(212,221,490.7,530.7,{range:[1,0]},{range:[3.5,-.5]});
drawTree(treeKey,kTree,'#222');
keyGenes.forEach((g,i)=>note(g,222,[493.5,505,515.5,526][i],8.5,'#222'));
note('Expression changes',287,503,8.5,'#222');
note('in CHD8 KO neurons',289,514,8.5,'#222');
note('Pearson correlation',404,486,7.1,'#333');
const pBar=addAxes(414,452,493,500,{range:[-.5,10.5]},{range:[-.5,.5]});
traces.push({type:'heatmap',z:pearsonBarValues,xaxis:pBar.x,yaxis:pBar.y,zmin:-1,zmax:1,colorscale:corrScale,zsmooth:'best',showscale:false,hoverinfo:'skip'});
note('\u22121',416,505,6.5,'#222',{xanchor:'center'});note('0',433,505,6.5,'#222',{xanchor:'center'});note('1',450,505,6.5,'#222',{xanchor:'center'});

Plotly.newPlot('chart',traces,layout,{displayModeBar:false,staticPlot:true});
</script></body></html>
